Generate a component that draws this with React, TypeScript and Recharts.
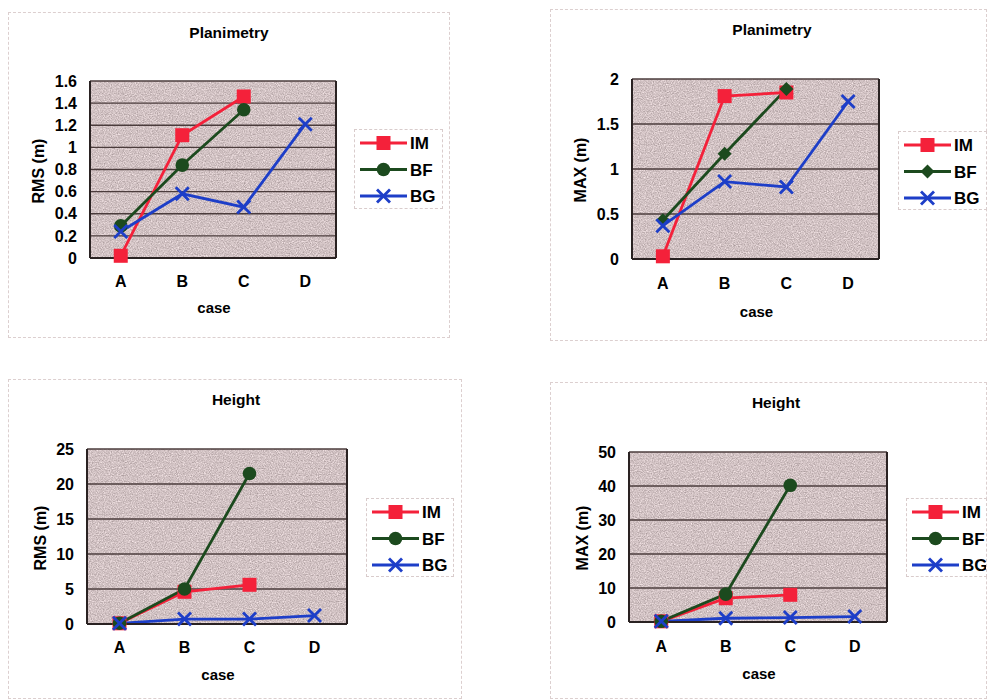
import { LineChart, Line, XAxis, YAxis, CartesianGrid, Legend } from 'recharts'

const CASES = ['A', 'B', 'C', 'D']

// Planimetry RMS (m)
const PLAN_RMS_IM = [0.02, 1.11, 1.46, null]
const PLAN_RMS_BF = [0.29, 0.84, 1.34, null]
const PLAN_RMS_BG = [0.24, 0.58, 0.46, 1.21]
const PLAN_RMS_TICKS = [0, 0.2, 0.4, 0.6, 0.8, 1, 1.2, 1.4, 1.6]

// Planimetry MAX (m)
const PLAN_MAX_IM = [0.03, 1.81, 1.85, null]
const PLAN_MAX_BF = [0.43, 1.17, 1.89, null]
const PLAN_MAX_BG = [0.37, 0.86, 0.8, 1.75]
const PLAN_MAX_TICKS = [0, 0.5, 1, 1.5, 2]

// Height RMS (m)
const HGT_RMS_IM = [0.1, 4.6, 5.6, null]
const HGT_RMS_BF = [0.1, 5.0, 21.5, null]
const HGT_RMS_BG = [0.1, 0.7, 0.7, 1.2]
const HGT_RMS_TICKS = [0, 5, 10, 15, 20, 25]

// Height MAX (m)
const HGT_MAX_IM = [0.2, 7.0, 8.0, null]
const HGT_MAX_BF = [0.2, 8.2, 40.2, null]
const HGT_MAX_BG = [0.2, 1.1, 1.3, 1.6]
const HGT_MAX_TICKS = [0, 10, 20, 30, 40, 50]

const RED = '#f4213a'
const GREEN = '#1c4a1e'
const BLUE = '#1d3ec8'
const GRID = '#4b3c3c'
const PLOT_BG = '#c9bcbc'
const FONT = '"Liberation Sans", Arial, sans-serif'

type Box = { x: number; y: number; w: number; h: number }

function buildRows(im: (number | null)[], bf: (number | null)[], bg: (number | null)[]) {
  return CASES.map((c, i) => ({ case: c, IM: im[i], BF: bf[i], BG: bg[i] }))
}

// marker glyphs, shared by the lines and the legend
function Marker({ kind, cx, cy, color }: { kind: string; cx: number; cy: number; color: string }) {
  if (kind === 'square') {
    return <rect x={cx - 7} y={cy - 7} width={14} height={14} fill={color} />
  }
  if (kind === 'circle') {
    return <circle cx={cx} cy={cy} r={6.8} fill={color} />
  }
  if (kind === 'diamond') {
    return <polygon points={`${cx},${cy - 7} ${cx + 7},${cy} ${cx},${cy + 7} ${cx - 7},${cy}`} fill={color} />
  }
  return (
    <g stroke={color} strokeWidth={2.8}>
      <line x1={cx - 6.5} y1={cy - 6.5} x2={cx + 6.5} y2={cy + 6.5} />
      <line x1={cx - 6.5} y1={cy + 6.5} x2={cx + 6.5} y2={cy - 6.5} />
    </g>
  )
}

function dotFor(kind: string, color: string) {
  return (props: any) => {
    const { cx, cy, index } = props
    if (cx == null || cy == null || props.value == null) return <g key={`e-${index}`} />
    return (
      <g key={`d-${index}`}>
        <Marker kind={kind} cx={cx} cy={cy} color={color} />
      </g>
    )
  }
}

interface PanelProps {
  id: string
  title: string
  yLabel: string
  rows: Record<string, string | number | null>[]
  ticks: number[]
  bfShape: string
  frame: Box
  plot: Box
  legend: Box
  titleAt: [number, number]
  yLabelX: number
  tickY: number
  caseY: number
}

function Panel(p: PanelProps) {
  const { frame, plot, legend } = p
  const max = p.ticks[p.ticks.length - 1]
  const pad = plot.w / 8
  const series = [
    { key: 'IM', color: RED, shape: 'square' },
    { key: 'BF', color: GREEN, shape: p.bfShape },
    { key: 'BG', color: BLUE, shape: 'x' }
  ]

  const renderLegend = () => (
    <div
      style={{
        width: legend.w,
        height: legend.h,
        border: '1px dashed #d9cccc',
        boxSizing: 'border-box',
        background: '#fff'
      }}
    >
      <svg width={legend.w - 2} height={legend.h - 2}>
        {series.map((s, i) => {
          const y = 13 + i * 26.5
          return (
            <g key={s.key}>
              <line x1={5} y1={y} x2={52} y2={y} stroke={s.color} strokeWidth={2.8} />
              <Marker kind={s.shape} cx={28.5} cy={y} color={s.color} />
              <text x={55} y={y + 6} fontSize={17} fontWeight={700} fontFamily={FONT} fill="#000">
                {s.key}
              </text>
            </g>
          )
        })}
      </svg>
    </div>
  )

  const tickStyle = { fill: '#000', fontSize: 16, fontWeight: 700, fontFamily: FONT }

  return (
    <div
      style={{
        position: 'absolute',
        left: frame.x,
        top: frame.y,
        width: frame.w,
        height: frame.h,
        border: '1px dashed #dccfcf',
        boxSizing: 'border-box'
      }}
    >
      <div
        style={{
          position: 'absolute',
          left: p.titleAt[0] - frame.x - 100,
          top: p.titleAt[1] - frame.y - 10,
          width: 200,
          textAlign: 'center',
          fontFamily: FONT,
          fontWeight: 700,
          fontSize: 15.5,
          lineHeight: '20px'
        }}
      >
        {p.title}
      </div>
      <div
        style={{
          position: 'absolute',
          left: p.yLabelX - frame.x,
          top: plot.y + plot.h / 2 - frame.y,
          transform: 'translate(-50%, -50%) rotate(-90deg)',
          whiteSpace: 'nowrap',
          fontFamily: FONT,
          fontWeight: 700,
          fontSize: 16,
          lineHeight: '20px'
        }}
      >
        {p.yLabel}
      </div>
      <div
        style={{
          position: 'absolute',
          left: plot.x + plot.w / 2 - frame.x - 50,
          top: p.caseY - frame.y - 10,
          width: 100,
          textAlign: 'center',
          fontFamily: FONT,
          fontWeight: 700,
          fontSize: 15,
          lineHeight: '20px'
        }}
      >
        case
      </div>
      <div style={{ position: 'absolute', left: -1, top: -1 }}>
        <LineChart
          width={frame.w}
          height={frame.h}
          data={p.rows}
          margin={{
            top: plot.y - frame.y,
            left: 0,
            bottom: 0,
            right: frame.x + frame.w - (plot.x + plot.w) - 1
          }}
        >
          <defs>
            <filter
              id={`grain-${p.id}`}
              x="0"
              y="0"
              width="100%"
              height="100%"
              colorInterpolationFilters="sRGB"
            >
              <feTurbulence type="fractalNoise" baseFrequency="0.85" numOctaves={2} seed={7} result="n" />
              <feColorMatrix
                in="n"
                type="matrix"
                values="0.42 0 0 0 0.61  0.42 0 0 0 0.55  0.42 0 0 0 0.555  0 0 0 0 1"
              />
            </filter>
            <pattern id={`tex-${p.id}`} width={300} height={200} patternUnits="userSpaceOnUse">
              <rect width={300} height={200} fill={PLOT_BG} filter={`url(#grain-${p.id})`} />
            </pattern>
          </defs>
          <CartesianGrid
            vertical={false}
            fill={`url(#tex-${p.id})`}
            fillOpacity={1}
            stroke={GRID}
            strokeWidth={1.3}
          />
          <XAxis
            dataKey="case"
            height={frame.y + frame.h - (plot.y + plot.h)}
            padding={{ left: pad, right: pad }}
            axisLine={{ stroke: '#2a2222', strokeWidth: 2 }}
            tickLine={false}
            tickSize={0}
            tickMargin={p.tickY - (plot.y + plot.h) - 6}
            tick={tickStyle}
            interval={0}
          />
          <YAxis
            type="number"
            domain={[0, max]}
            ticks={p.ticks}
            width={plot.x - frame.x}
            axisLine={{ stroke: '#2a2222', strokeWidth: 2 }}
            tickLine={false}
            tickSize={0}
            tickMargin={13}
            tick={tickStyle}
            interval={0}
          />
          <YAxis
            yAxisId="r"
            orientation="right"
            type="number"
            domain={[0, max]}
            width={1}
            tick={false}
            tickLine={false}
            axisLine={{ stroke: '#2a2222', strokeWidth: 2 }}
          />
          <Legend
            layout="horizontal"
            verticalAlign="middle"
            align="center"
            content={renderLegend}
            wrapperStyle={{ left: legend.x - frame.x, top: legend.y - frame.y, width: legend.w, height: legend.h }}
          />
          {series.map((s) => (
            <Line
              key={s.key}
              dataKey={s.key}
              stroke={s.color}
              strokeWidth={2.8}
              dot={dotFor(s.shape, s.color)}
              activeDot={false}
              isAnimationActive={false}
            />
          ))}
        </LineChart>
      </div>
    </div>
  )
}

export default function App() {
  return (
    <div style={{ position: 'absolute', left: 0, top: 0, width: 988, height: 699, background: '#fff', overflow: 'hidden' }}>
      <Panel
        id="p1"
        title="Planimetry"
        yLabel="RMS (m)"
        rows={buildRows(PLAN_RMS_IM, PLAN_RMS_BF, PLAN_RMS_BG)}
        ticks={PLAN_RMS_TICKS}
        bfShape="circle"
        frame={{ x: 8, y: 12, w: 442, h: 326 }}
        plot={{ x: 90, y: 81, w: 246, h: 177 }}
        legend={{ x: 354, y: 129, w: 89, h: 80 }}
        titleAt={[228, 32]}
        yLabelX={38}
        tickY={282}
        caseY={307}
      />
      <Panel
        id="p2"
        title="Planimetry"
        yLabel="MAX (m)"
        rows={buildRows(PLAN_MAX_IM, PLAN_MAX_BF, PLAN_MAX_BG)}
        ticks={PLAN_MAX_TICKS}
        bfShape="diamond"
        frame={{ x: 550, y: 9, w: 437, h: 332 }}
        plot={{ x: 632, y: 79, w: 247, h: 180 }}
        legend={{ x: 898, y: 131, w: 89, h: 79 }}
        titleAt={[771, 29]}
        yLabelX={580}
        tickY={284}
        caseY={311}
      />
      <Panel
        id="p3"
        title="Height"
        yLabel="RMS (m)"
        rows={buildRows(HGT_RMS_IM, HGT_RMS_BF, HGT_RMS_BG)}
        ticks={HGT_RMS_TICKS}
        bfShape="circle"
        frame={{ x: 8, y: 379, w: 454, h: 320 }}
        plot={{ x: 87, y: 449, w: 260, h: 175 }}
        legend={{ x: 366, y: 498, w: 88, h: 79 }}
        titleAt={[235, 399]}
        yLabelX={40}
        tickY={648}
        caseY={674}
      />
      <Panel
        id="p4"
        title="Height"
        yLabel="MAX (m)"
        rows={buildRows(HGT_MAX_IM, HGT_MAX_BF, HGT_MAX_BG)}
        ticks={HGT_MAX_TICKS}
        bfShape="circle"
        frame={{ x: 550, y: 382, w: 437, h: 317 }}
        plot={{ x: 629, y: 452, w: 258, h: 170 }}
        legend={{ x: 906, y: 498, w: 81, h: 79 }}
        titleAt={[775, 402]}
        yLabelX={582}
        tickY={647}
        caseY={673}
      />
    </div>
  )
}
